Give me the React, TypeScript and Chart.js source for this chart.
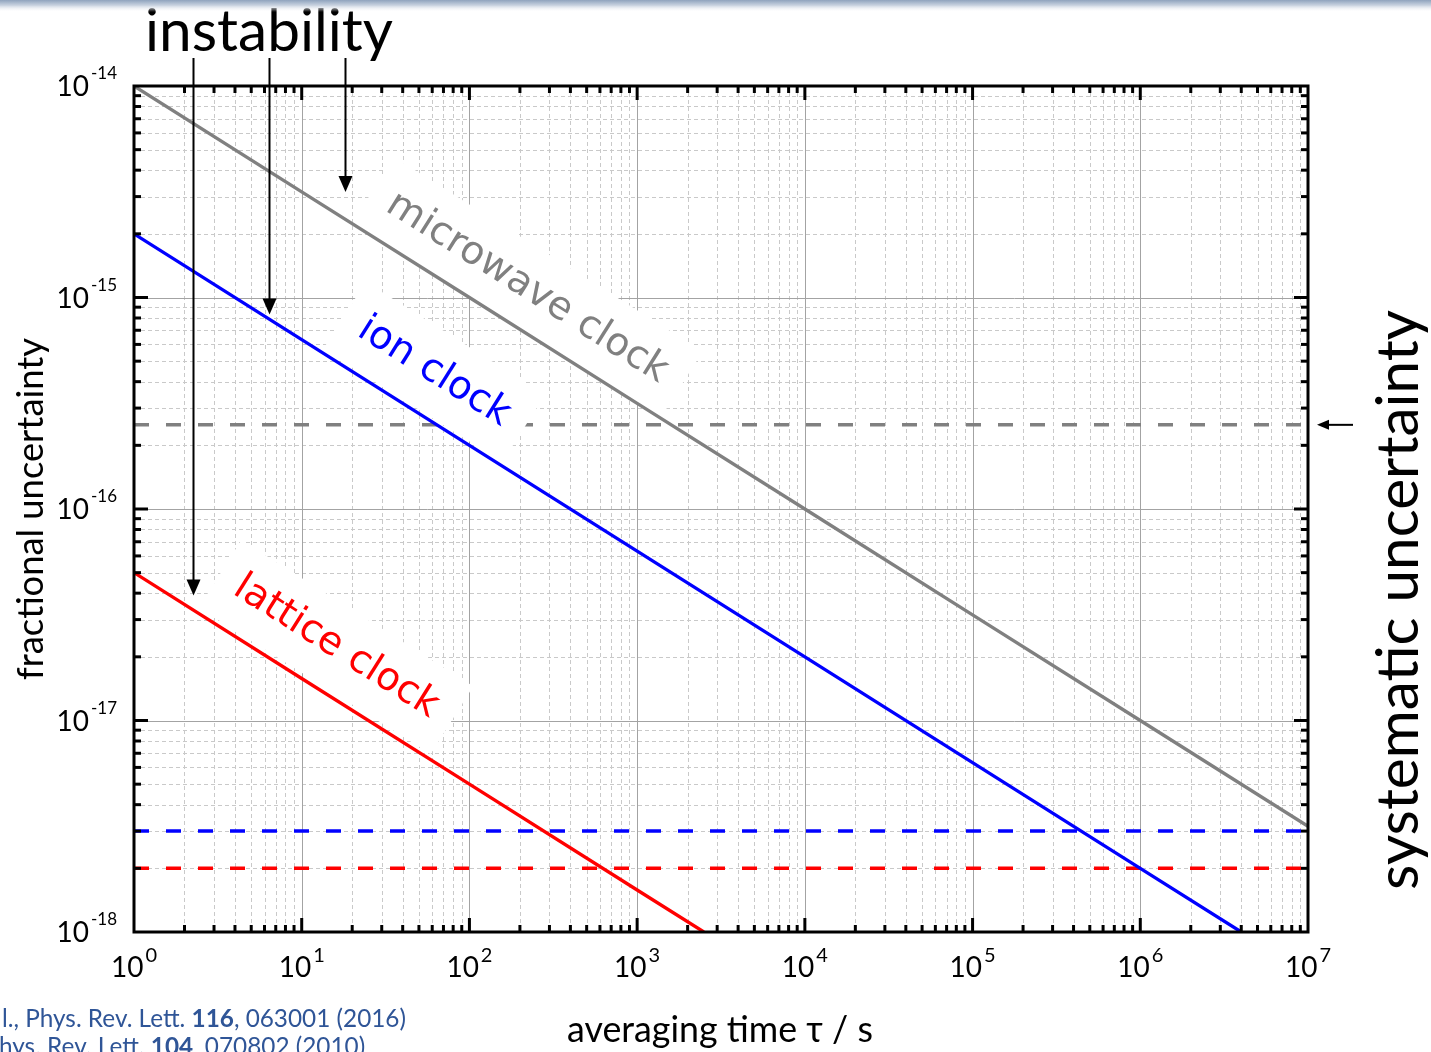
import React, { useEffect, useRef } from "react";
import { Chart, registerables } from "chart.js";
Chart.register(...registerables);

const W = 1431;
const H = 1052;

// averaging time tau (s) and fractional instability of each clock type
const tauMicrowave = [1, 10, 100, 1000, 1e4, 1e5, 1e6, 1e7];
const instabilityMicrowave = [1e-14, 3.16e-15, 1e-15, 3.16e-16, 1e-16, 3.16e-17, 1e-17, 3.16e-18];
const tauIon = [1, 10, 100, 1000, 1e4, 1e5, 1e6, 4e6];
const instabilityIon = [2e-15, 6.32e-16, 2e-16, 6.32e-17, 2e-17, 6.32e-18, 2e-18, 1e-18];
const tauLattice = [1, 10, 100, 1000, 2500];
const instabilityLattice = [5e-17, 1.58e-17, 5e-18, 1.58e-18, 1e-18];

// systematic uncertainty levels (horizontal dashed lines)
const tauSystematic = [1, 1e7];
const systematicMicrowave = [2.5e-16, 2.5e-16];
const systematicIon = [3e-18, 3e-18];
const systematicLattice = [2e-18, 2e-18];

// axis ticks
const xMajorTicks = [1, 10, 100, 1000, 1e4, 1e5, 1e6, 1e7];
const xTickExponents = ["0", "1", "2", "3", "4", "5", "6", "7"];
const yMajorTicks = [1e-14, 1e-15, 1e-16, 1e-17, 1e-18];
const yTickExponents = ["-14", "-15", "-16", "-17", "-18"];

// annotations
const curveLabels = ["microwave clock", "ion clock", "lattice clock"];
const arrowTau = [2.25, 6.4, 18.1];
const arrowTip = [3.9e-17, 8.3e-16, 3.15e-15];

const GRAY = "#808080";
const BLUE = "#0000ff";
const RED = "#ff0000";
const CAL = "Lato, 'Noto Sans', 'DejaVu Sans', sans-serif";
const VER = "'DejaVu Sans', sans-serif";

const zip = (xs: number[], ys: number[]) => xs.map((x, i) => ({ x, y: ys[i] }));

function fitSize(ctx: CanvasRenderingContext2D, text: string, family: string, target: number, weight = "normal") {
  ctx.font = `${weight} 100px ${family}`;
  return (100 * target) / ctx.measureText(text).width;
}

export default function App() {
  const ref = useRef<HTMLCanvasElement | null>(null);

  useEffect(() => {
    const canvas = ref.current;
    if (!canvas) return;
    let boxesDrawn = false;

    const decor = {
      id: "decor",
      beforeDatasetsDraw(chart: any) {
        boxesDrawn = false;
        const { ctx, chartArea: a } = chart;
        const xs = chart.scales.x;
        const ys = chart.scales.y;
        ctx.save();
        // minor grid
        ctx.strokeStyle = "#c9c9c9";
        ctx.lineWidth = 1;
        ctx.setLineDash([4, 3]);
        for (let e = 0; e < 7; e++) {
          for (let m = 2; m <= 9; m++) {
            const px = Math.round(xs.getPixelForValue(m * Math.pow(10, e))) + 0.5;
            ctx.beginPath();
            ctx.moveTo(px, a.top);
            ctx.lineTo(px, a.bottom);
            ctx.stroke();
          }
        }
        for (let e = -18; e < -14; e++) {
          for (let m = 2; m <= 9; m++) {
            const py = Math.round(ys.getPixelForValue(m * Math.pow(10, e))) + 0.5;
            ctx.beginPath();
            ctx.moveTo(a.left, py);
            ctx.lineTo(a.right, py);
            ctx.stroke();
          }
        }
        // major grid
        ctx.setLineDash([]);
        ctx.strokeStyle = "#a3a3a3";
        xMajorTicks.slice(1, -1).forEach((v) => {
          const px = Math.round(xs.getPixelForValue(v)) + 0.5;
          ctx.beginPath();
          ctx.moveTo(px, a.top);
          ctx.lineTo(px, a.bottom);
          ctx.stroke();
        });
        yMajorTicks.slice(1, -1).forEach((v) => {
          const py = Math.round(ys.getPixelForValue(v)) + 0.5;
          ctx.beginPath();
          ctx.moveTo(a.left, py);
          ctx.lineTo(a.right, py);
          ctx.stroke();
        });
        ctx.restore();
      },
      beforeDatasetDraw(chart: any, args: any) {
        const ds = chart.data.datasets[args.index];
        if (boxesDrawn || !ds.instability) return;
        boxesDrawn = true;
        const { ctx } = chart;
        const xs = chart.scales.x;
        const ys = chart.scales.y;
        const angle = Math.atan2(
          ys.getPixelForValue(1e-16) - ys.getPixelForValue(1e-14),
          xs.getPixelForValue(1e4) - xs.getPixelForValue(1)
        );
        const centers = [
          [527, 288],
          [434, 372],
          [336, 647],
        ];
        const colors = [GRAY, BLUE, RED];
        ctx.save();
        ctx.font = `39px ${VER}`;
        curveLabels.forEach((t, i) => {
          const w = ctx.measureText(t).width;
          ctx.save();
          ctx.translate(centers[i][0], centers[i][1]);
          ctx.rotate(angle);
          ctx.fillStyle = "#ffffff";
          ctx.fillRect(-w / 2 - 20, -40, w + 40, 80);
          ctx.fillStyle = colors[i];
          ctx.textAlign = "center";
          ctx.textBaseline = "middle";
          ctx.fillText(t, 0, 0);
          ctx.restore();
        });
        ctx.restore();
      },
      afterDatasetsDraw(chart: any) {
        const { ctx, chartArea: a } = chart;
        const xs = chart.scales.x;
        const ys = chart.scales.y;
        ctx.save();
        // ticks
        ctx.strokeStyle = "#000";
        ctx.lineWidth = 3;
        ctx.lineCap = "butt";
        const tick = (x1: number, y1: number, x2: number, y2: number) => {
          ctx.beginPath();
          ctx.moveTo(x1, y1);
          ctx.lineTo(x2, y2);
          ctx.stroke();
        };
        for (let e = 0; e < 7; e++) {
          for (let m = 1; m <= 9; m++) {
            if (m === 1 && e === 0) continue;
            const px = xs.getPixelForValue(m * Math.pow(10, e));
            const len = m === 1 ? 14 : 7;
            tick(px, a.bottom, px, a.bottom - len);
            tick(px, a.top, px, a.top + len);
          }
        }
        for (let e = -18; e < -14; e++) {
          for (let m = 1; m <= 9; m++) {
            if (m === 1 && e === -18) continue;
            const py = ys.getPixelForValue(m * Math.pow(10, e));
            const len = m === 1 ? 14 : 7;
            tick(a.left, py, a.left + len, py);
            tick(a.right, py, a.right - len, py);
          }
        }
        // frame
        ctx.strokeRect(a.left, a.top, a.right - a.left, a.bottom - a.top);

        // tick labels
        ctx.fillStyle = "#000";
        ctx.textBaseline = "alphabetic";
        ctx.textAlign = "left";
        xMajorTicks.forEach((v, i) => {
          const px = xs.getPixelForValue(v);
          ctx.font = `28px ${CAL}`;
          const wb = ctx.measureText("10").width;
          ctx.font = `20px ${CAL}`;
          const wsup = ctx.measureText(xTickExponents[i]).width;
          const total = wb + 2 + wsup;
          const left = px - total / 2;
          ctx.font = `28px ${CAL}`;
          ctx.fillText("10", left, a.bottom + 45);
          ctx.font = `20px ${CAL}`;
          ctx.fillText(xTickExponents[i], left + wb + 2, a.bottom + 30);
        });
        yMajorTicks.forEach((v, i) => {
          const py = ys.getPixelForValue(v);
          ctx.font = `17px ${CAL}`;
          const wsup = ctx.measureText(yTickExponents[i]).width;
          ctx.font = `28px ${CAL}`;
          const wb = ctx.measureText("10").width;
          const right = 117;
          const left = right - wsup - 2 - wb;
          ctx.fillText("10", left, py + 10);
          ctx.font = `17px ${CAL}`;
          ctx.fillText(yTickExponents[i], left + wb + 2, py - 7);
        });

        // instability arrows
        ctx.lineWidth = 2;
        ctx.fillStyle = "#000";
        arrowTau.forEach((t, i) => {
          const px = Math.round(xs.getPixelForValue(t)) + 0.5;
          const tip = ys.getPixelForValue(arrowTip[i]);
          ctx.beginPath();
          ctx.moveTo(px, 58);
          ctx.lineTo(px, tip - 14);
          ctx.stroke();
          ctx.beginPath();
          ctx.moveTo(px - 7, tip - 16);
          ctx.lineTo(px + 7, tip - 16);
          ctx.lineTo(px, tip);
          ctx.closePath();
          ctx.fill();
        });
        // systematic arrow
        const ay = ys.getPixelForValue(systematicMicrowave[0]);
        ctx.beginPath();
        ctx.moveTo(1353, ay);
        ctx.lineTo(1326, ay);
        ctx.stroke();
        ctx.beginPath();
        ctx.moveTo(1317, ay);
        ctx.lineTo(1329, ay - 5);
        ctx.lineTo(1329, ay + 5);
        ctx.closePath();
        ctx.fill();

        // titles
        ctx.fillStyle = "#000";
        ctx.textAlign = "center";
        ctx.textBaseline = "alphabetic";
        let s = fitSize(ctx, "instability", CAL, 248);
        ctx.font = `${s}px ${CAL}`;
        ctx.fillText("instability", 269, 51);

        s = fitSize(ctx, "averaging time τ / s", CAL, 306);
        ctx.font = `${s}px ${CAL}`;
        ctx.fillText("averaging time τ / s", 720, 1042);

        s = fitSize(ctx, "fractional uncertainty", CAL, 342);
        ctx.save();
        ctx.translate(43, 509);
        ctx.rotate(-Math.PI / 2);
        ctx.font = `${s}px ${CAL}`;
        ctx.fillText("fractional uncertainty", 0, 0);
        ctx.restore();

        s = fitSize(ctx, "systematic uncertainty", CAL, 580);
        ctx.save();
        ctx.translate(1418, 600);
        ctx.rotate(-Math.PI / 2);
        ctx.font = `${s}px ${CAL}`;
        ctx.fillText("systematic uncertainty", 0, 0);
        ctx.restore();

        // top bar
        const g = ctx.createLinearGradient(0, 0, 0, 12);
        g.addColorStop(0, "#8fa3bd");
        g.addColorStop(0.45, "#c9d3e0");
        g.addColorStop(1, "rgba(255,255,255,0)");
        ctx.fillStyle = g;
        ctx.fillRect(0, 0, W, 12);

        // citations
        const cites = [
          ["l., Phys. Rev. Lett. ", "116", ", 063001 (2016)", 1027],
          ["hys. Rev. Lett. ", "104", ", 070802 (2010)", 1055],
        ] as [string, string, string, number][];
        ctx.textAlign = "left";
        ctx.fillStyle = "#2f5597";
        ctx.font = `100px ${CAL}`;
        const w1 = ctx.measureText(cites[0][0]).width + ctx.measureText(cites[0][2]).width;
        ctx.font = `bold 100px ${CAL}`;
        const w2 = ctx.measureText(cites[0][1]).width;
        const cs = (100 * 404) / (w1 + w2);
        cites.forEach(([p1, b, p2, by], i) => {
          let x0 = i === 0 ? 2 : -1;
          ctx.font = `${cs}px ${CAL}`;
          ctx.fillText(p1, x0, by);
          x0 += ctx.measureText(p1).width;
          ctx.font = `bold ${cs}px ${CAL}`;
          ctx.fillText(b, x0, by);
          x0 += ctx.measureText(b).width;
          ctx.font = `${cs}px ${CAL}`;
          ctx.fillText(p2, x0, by);
        });
        ctx.restore();
      },
    };

    const solid = (data: any, color: string) => ({
      data,
      borderColor: color,
      borderWidth: 3.3,
      showLine: true,
      pointRadius: 0,
      fill: false,
      order: 0,
      instability: true,
    });
    const dashed = (data: any, color: string) => ({
      data,
      borderColor: color,
      borderWidth: 3.5,
      borderDash: [15, 17],
      showLine: true,
      pointRadius: 0,
      fill: false,
      order: 1,
    });

    const chart = new Chart(canvas, {
      type: "scatter",
      data: {
        datasets: [
          solid(zip(tauMicrowave, instabilityMicrowave), GRAY),
          solid(zip(tauIon, instabilityIon), BLUE),
          solid(zip(tauLattice, instabilityLattice), RED),
          dashed(zip(tauSystematic, systematicMicrowave), GRAY),
          dashed(zip(tauSystematic, systematicIon), BLUE),
          dashed(zip(tauSystematic, systematicLattice), RED),
        ] as any,
      },
      options: {
        responsive: false,
        animation: false,
        events: [],
        layout: { padding: { left: 134, top: 86, right: 123, bottom: 120 } },
        scales: {
          x: { type: "logarithmic", min: 1, max: 1e7, display: false },
          y: { type: "logarithmic", min: 1e-18, max: 1e-14, display: false },
        },
        plugins: { legend: { display: false }, tooltip: { enabled: false } },
      },
      plugins: [decor as any],
    });
    return () => chart.destroy();
  }, []);

  return (
    <div style={{ position: "absolute", left: 0, top: 0, width: W, height: H, background: "#fff" }}>
      <canvas ref={ref} width={W} height={H} style={{ display: "block", width: W, height: H }} />
    </div>
  );
}
